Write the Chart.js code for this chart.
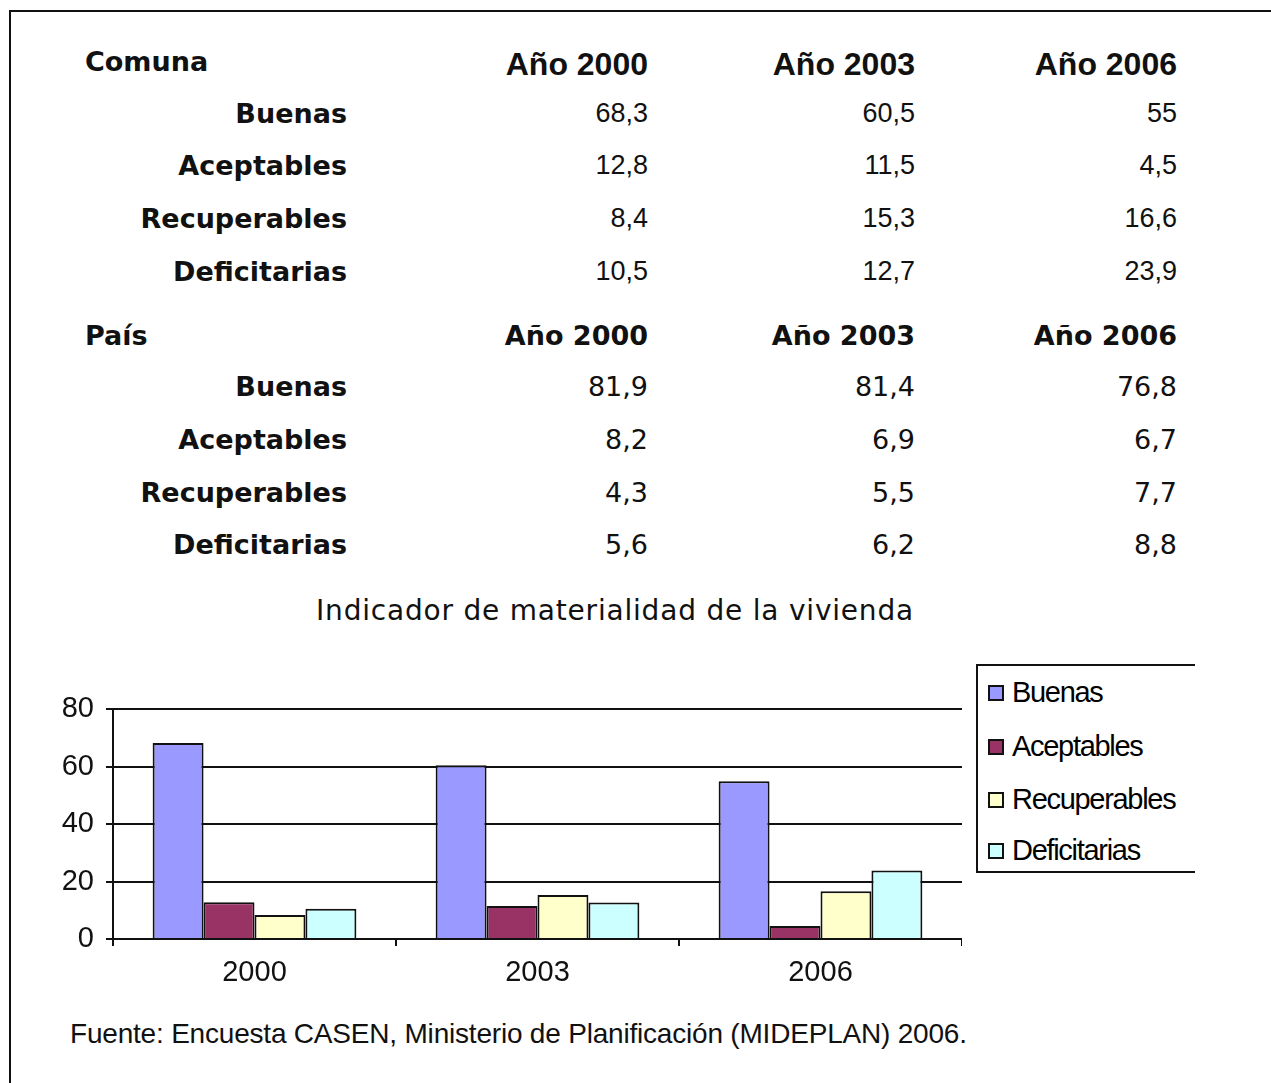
<!DOCTYPE html>
<html>
<head>
<meta charset="utf-8">
<script src="https://cdn.jsdelivr.net/npm/chart.js@4.4.1/dist/chart.umd.min.js"></script>
<style>
  body { margin: 0; background: #fff; width: 1271px; height: 1083px; overflow: hidden; position: relative; }
  .frame { position: absolute; left: 9px; top: 10px; width: 1300px; height: 1100px; border: 2px solid #111; }
  .t { position: absolute; white-space: nowrap; height: 40px; line-height: 40px; color: #111; }
  .r { text-align: right; }
  #chartBox { position: absolute; left: 40px; top: 680px; width: 922px; height: 320px; }
  .legend { position: absolute; left: 976px; top: 664px; width: 217px; height: 205px;
            border: 2px solid #111; border-right: none; font-family: "Liberation Sans", Arial, sans-serif; font-size: 29px; }
  .legend div { position: absolute; left: 10px; height: 34px; line-height: 34px; letter-spacing: -1.3px; }
  .legend span { display: inline-block; width: 12px; height: 12px; border: 2px solid #111; margin-right: 8px; vertical-align: 1px; }
</style>
</head>
<body>
<div class="frame"></div>
<div id="table"></div>
<div class="t" style="left:0;width:1230px;text-align:center;top:591px;font-family:'DejaVu Sans';font-size:28px;letter-spacing:0.8px;">Indicador de materialidad de la vivienda</div>
<div id="chartBox"><canvas id="chart"></canvas></div>
<div class="legend" id="legend"></div>
<div class="t" style="left:70px;top:1014px;font-family:'Liberation Sans';font-size:28px;letter-spacing:-0.2px;">Fuente: Encuesta CASEN, Ministerio de Planificación (MIDEPLAN) 2006.</div>

<script>
// Data
const years = ['2000', '2003', '2006'];
const categories = ['Buenas', 'Aceptables', 'Recuperables', 'Deficitarias'];
const comunaBuenas = [68.3, 60.5, 55];
const comunaAceptables = [12.8, 11.5, 4.5];
const comunaRecuperables = [8.4, 15.3, 16.6];
const comunaDeficitarias = [10.5, 12.7, 23.9];
const paisBuenas = [81.9, 81.4, 76.8];
const paisAceptables = [8.2, 6.9, 6.7];
const paisRecuperables = [4.3, 5.5, 7.7];
const paisDeficitarias = [5.6, 6.2, 8.8];
const yTicks = [0, 20, 40, 60, 80];
const colors = ['#9999ff', '#993366', '#ffffcc', '#ccffff'];

const comuna = [comunaBuenas, comunaAceptables, comunaRecuperables, comunaDeficitarias];
const pais = [paisBuenas, paisAceptables, paisRecuperables, paisDeficitarias];

// Table
const table = document.getElementById('table');
const colRight = [648, 915, 1177];

function addText(txt, x, cy, font, alignRight) {
    const d = document.createElement('div');
    d.className = 't' + (alignRight ? ' r' : '');
    d.textContent = txt;
    d.style.font = font;
    d.style.top = (cy - 20 + 5) + 'px';
    if (alignRight) {
        d.style.right = (1271 - x) + 'px';
    } else {
        d.style.left = x + 'px';
    }
    table.appendChild(d);
}

function fmt(v) {
    return String(v).replace('.', ',');
}

function renderBlock(title, rows, headY, rowYs, headFont, valFont) {
    addText(title, 85, headY, 'bold 27px "DejaVu Sans"', false);
    years.forEach((y, i) => addText('Año ' + y, colRight[i], headY, headFont, true));
    categories.forEach((c, r) => {
        addText(c, 347, rowYs[r], 'bold 27px "DejaVu Sans"', true);
        rows[r].forEach((v, i) => addText(fmt(v), colRight[i], rowYs[r], valFont, true));
    });
}

renderBlock('Comuna', comuna, 61, [113, 165, 218, 271], 'bold 32px "Liberation Sans"', '27px "Liberation Sans"');
renderBlock('País', pais, 335, [386, 439, 492, 544], 'bold 27px "DejaVu Sans"', '27px "DejaVu Sans"');

// Legend
const legend = document.getElementById('legend');
const legendTops = [9, 63, 116, 167];
categories.forEach((c, i) => {
    const d = document.createElement('div');
    d.style.top = legendTops[i] + 'px';
    d.innerHTML = '<span style="background:' + colors[i] + '"></span>' + c;
    legend.appendChild(d);
});

// Chart
const ctx = document.getElementById('chart').getContext('2d');
new Chart(ctx, {
    type: 'bar',
    data: {
        labels: years,
        datasets: categories.map((c, i) => ({
            label: c,
            data: comuna[i],
            backgroundColor: colors[i],
            borderColor: '#111',
            borderWidth: 2,
            categoryPercentage: 0.72,
            barPercentage: 1,
        }))
    },
    options: {
        responsive: true,
        maintainAspectRatio: false,
        animation: false,
        layout: { padding: { top: 19, right: 0, left: 0, bottom: 0 } },
        plugins: {
            legend: { display: false },
            tooltip: { enabled: false }
        },
        scales: {
            x: {
                afterFit: s => { s.height = 61; },
                border: { color: '#111', width: 2 },
                grid: { drawOnChartArea: false, color: '#111', lineWidth: 2, tickLength: 7 },
                ticks: { color: '#111', padding: 10, font: { family: 'Liberation Sans', size: 29 } }
            },
            y: {
                min: 0,
                max: 80,
                afterFit: s => { s.width = 73; },
                afterBuildTicks: s => { s.ticks = yTicks.map(v => ({ value: v })); },
                border: { color: '#111', width: 2 },
                grid: { color: '#111', lineWidth: 2, tickLength: 7 },
                ticks: { color: '#111', padding: 12, font: { family: 'Liberation Sans', size: 29 } }
            }
        }
    }
});
</script>
</body>
</html>
